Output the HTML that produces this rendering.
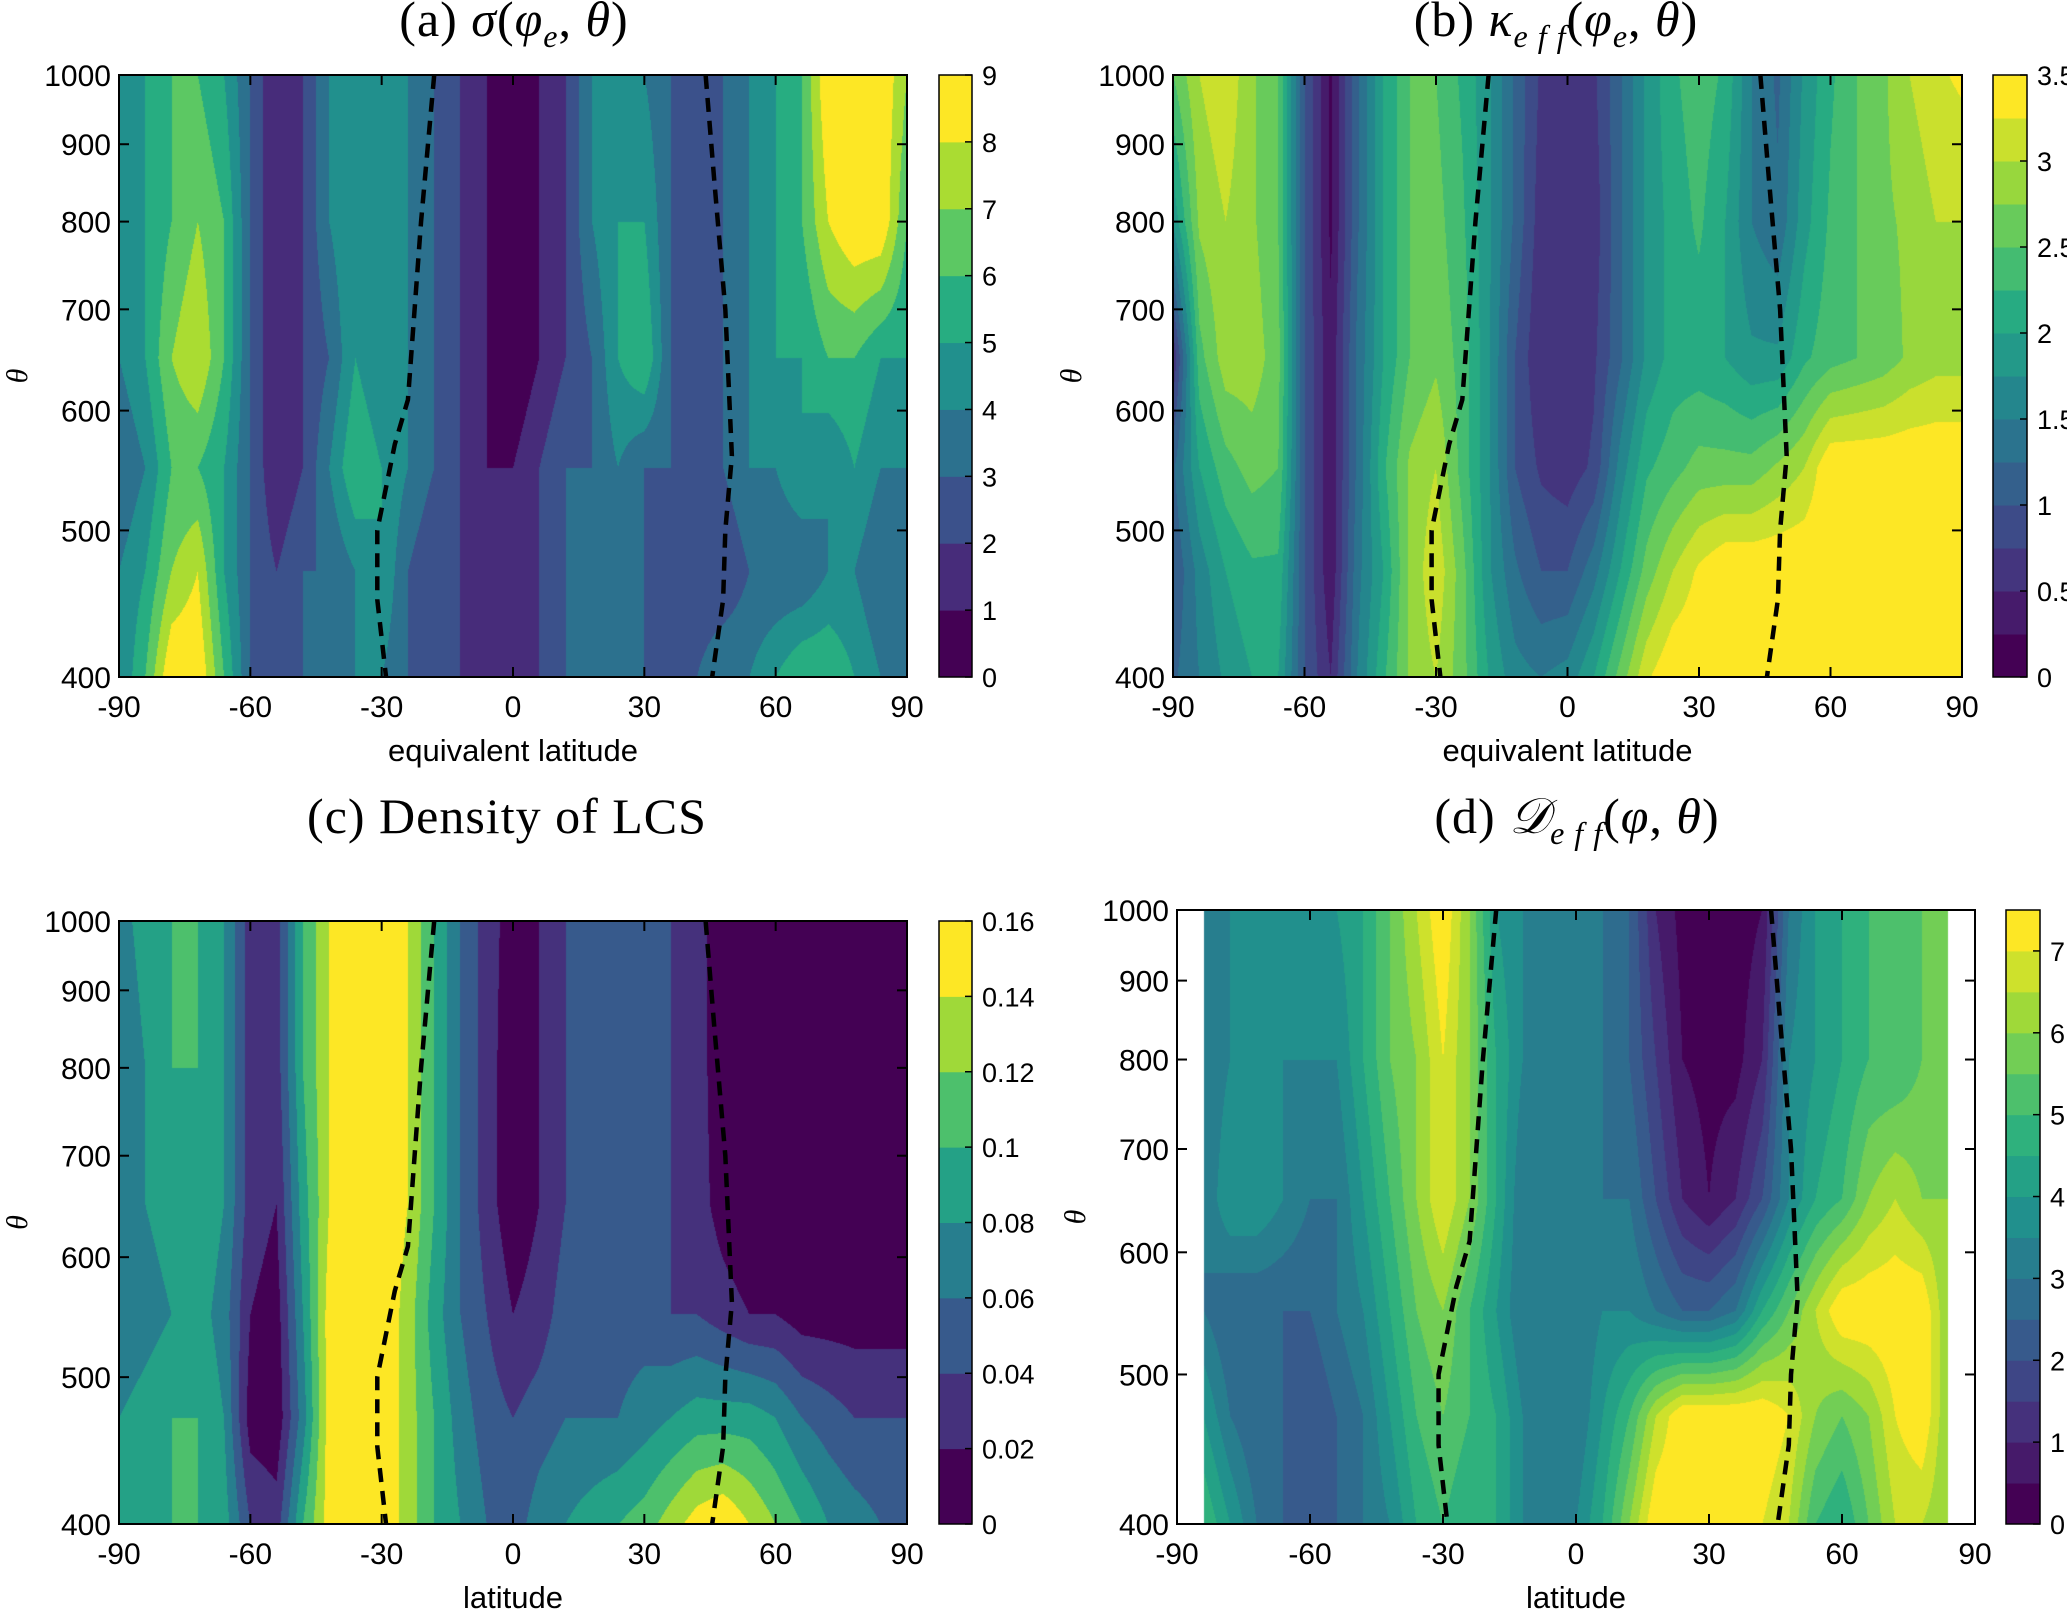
<!DOCTYPE html>
<html><head><meta charset="utf-8">
<style>
body{margin:0;background:#fff;width:2067px;height:1609px;position:relative;overflow:hidden;font-family:"Liberation Sans",sans-serif}
.t{position:absolute;font-family:"Liberation Serif",serif;font-size:50px;white-space:nowrap;transform:translateX(-50%);letter-spacing:1px}
canvas{position:absolute}
svg{position:absolute;left:0;top:0}
</style></head><body>
<div class="t" style="left:514px;top:-10px">(a) <i>σ</i>(<i>φ<sub style="font-size:32px">e</sub></i>, <i>θ</i>)</div>
<div class="t" style="left:1556px;top:-10px">(b) <i>κ<sub style="font-size:32px">e f f</sub></i>(<i>φ<sub style="font-size:32px">e</sub></i>, <i>θ</i>)</div>
<div class="t" style="left:507px;top:787px">(c) Density of LCS</div>
<div class="t" style="left:1577px;top:787px">(d) <i>𝒟<sub style="font-size:32px">e f f</sub></i>(<i>φ</i>, <i>θ</i>)</div>
<svg id="ov" width="2067" height="1609"></svg>
<script>
const lats=[-90,-84,-78,-72,-66,-60,-54,-48,-42,-36,-30,-24,-18,-12,-6,0,6,12,18,24,30,36,42,48,54,60,66,72,78,84,90];
const thetaRows=[1000,800,650,550,470,400];
const sigmaVals=[
[4,5,6,6,5,3,1,2,4,5,4,4,3,2,1,0,1,2,4,5,4,3,2,3,4,5,6,9,9,9,7],
[4,5,6,7,6,3,1,2,4,5,4,4,3,2,1,0,1,2,4,5,5,3,2,3,4,5,6,8,9,9,6],
[4,5,7,8,6,3,1,2,3,5,4,4,3,2,1,0,1,2,3,5,6,3,2,3,4,5,5,6,6,5,5],
[3,4,6,6,5,3,1,2,4,6,5,4,3,2,1,1,2,3,3,4,3,3,3,3,4,4,5,4,5,4,4],
[4,5,7,8,5,3,2,3,3,4,5,3,2,2,1,1,2,3,3,3,3,2,2,2,3,3,3,4,4,3,3],
[4,6,9,9,6,3,2,3,3,4,4,3,2,2,1,1,2,3,3,3,3,3,3,4,4,5,6,6,5,4,3]];
const kappaVals=[
[2.5,3,3.2,2.8,2.5,1,0.2,1.2,2,2.5,2.5,2.2,1.8,1.2,0.7,0.6,0.7,1.2,1.8,2.2,2.4,2.2,1.5,1.2,1.8,2.2,2.5,2.7,3,3.2,3.3],
[1.8,2.8,3,2.8,2.5,1,0.2,1.2,2,2.5,2.6,2.3,1.8,1.2,0.6,0.6,0.6,1.2,1.8,2.1,2.3,2,1.5,1.3,1.9,2.3,2.5,2.7,2.8,3,3],
[0.5,2.4,2.9,2.9,2.6,1,0.3,1.3,2,2.5,2.7,2.4,1.8,1,0.5,0.5,0.7,1.2,1.8,2.1,2.1,2,1.8,1.8,2.2,2.4,2.5,2.6,2.8,2.9,2.9],
[1.2,2,2.4,2.6,2.5,1,0.3,1.3,2.2,2.8,3,2.4,1.8,1,0.7,0.6,0.8,1.6,2.2,2.4,2.6,2.6,2.6,2.8,3,3.5,3.5,3.5,3.5,3.5,3.5],
[1,1.6,2,2.2,2.2,1,0.3,1.4,2,2.8,3.2,2.6,1.8,1.3,1,1,1.4,2,2.6,3,3.3,3.5,3.5,3.5,3.5,3.5,3.5,3.5,3.5,3.5,3.5],
[1.2,1.5,1.8,2,2,1,0.5,1.5,2.2,2.8,3,2.6,2,1.6,1.5,1.6,2,2.6,3.2,3.5,3.5,3.5,3.5,3.5,3.5,3.5,3.5,3.5,3.5,3.5,3.5]];
const lcsVals=[
[0.07,0.09,0.1,0.1,0.08,0.03,0.03,0.1,0.14,0.16,0.16,0.14,0.1,0.06,0.03,0.01,0.02,0.04,0.05,0.05,0.05,0.04,0.03,0.005,0,0,0,0,0,0,0],
[0.06,0.08,0.1,0.1,0.08,0.03,0.03,0.1,0.14,0.16,0.16,0.14,0.1,0.06,0.03,0.005,0.02,0.04,0.05,0.05,0.05,0.04,0.03,0.005,0,0,0,0,0,0,0],
[0.06,0.08,0.09,0.1,0.08,0.03,0.02,0.09,0.14,0.16,0.16,0.14,0.1,0.06,0.03,0.005,0.02,0.04,0.05,0.05,0.04,0.04,0.03,0.01,0,0,0,0,0,0,0],
[0.06,0.07,0.08,0.09,0.07,0.02,0.01,0.08,0.15,0.16,0.16,0.13,0.09,0.06,0.04,0.02,0.03,0.05,0.05,0.05,0.05,0.04,0.04,0.03,0.02,0.02,0.01,0.01,0.01,0.01,0.01],
[0.08,0.09,0.1,0.1,0.08,0.01,0.005,0.07,0.15,0.16,0.16,0.13,0.1,0.07,0.05,0.04,0.05,0.06,0.06,0.06,0.07,0.08,0.09,0.09,0.09,0.08,0.06,0.05,0.04,0.04,0.04],
[0.08,0.09,0.1,0.1,0.09,0.04,0.03,0.1,0.15,0.16,0.16,0.13,0.1,0.08,0.06,0.05,0.07,0.08,0.09,0.1,0.11,0.13,0.15,0.16,0.14,0.12,0.1,0.08,0.07,0.06,0.06]];
const deffVals=[
[null,3,3.5,4,4,3.5,4,4.5,5.5,6.5,7.5,6,4,3.5,3,3,3,2.5,1,0.3,0.2,0.2,0.5,3,4,4.5,5,5,5.5,6,null],
[null,3,3.5,3.5,3.5,3.5,3.5,4.5,5.5,6,7,6,4.5,3.5,3,3.5,3,2.5,1.5,0.5,0.3,0.3,1,3.5,4,4.5,5,5,5.5,6,null],
[null,3,4,4,3.5,3,3,4,5,6,7,6,4.5,3,3,3,3,3,2,1,0.5,1,2,3.5,4.5,5,6,6.5,6,6,null],
[null,3,2.5,2.5,2.5,2.5,3,3.5,4.5,5.5,6,5,4,3,3,3,3.5,3.5,3,2.5,2.5,3,4.5,5.5,6.5,7.5,7.5,7.5,7.5,6,null],
[null,4,3,2.5,2.5,2,2.5,3,4,5,5.5,5,4.5,3.5,3,3,4,5,6.5,7.5,7.5,7.5,7.5,7,6,5.5,6,7,7.5,6,null],
[null,5,4,3,2.5,2.5,2.5,3,3.5,4.5,5,4.5,4.5,3.5,3.5,3.5,4.5,6,7.5,7.5,7.5,7.5,7,6.5,5,4.5,5.5,6.5,6.5,6,null]];
const xTicks=[-90,-60,-30,0,30,60,90];
const yTicks=[400,500,600,700,800,900,1000];
const sigmaTicks=[0,1,2,3,4,5,6,7,8,9];
const kappaTicks=[0,0.5,1,1.5,2,2.5,3,3.5];
const lcsTicks=[0,0.02,0.04,0.06,0.08,0.1,0.12,0.14,0.16];
const deffTicks=[0,1,2,3,4,5,6,7];
const dashLeftLat=[-18,-21,-24,-27,-31,-31,-29];
const dashLeftTh=[1000,800,610,570,500,450,400];
const dashRightLat=[44,46,48.5,50,48.5,48,45.5];
const dashRightTh=[1000,850,700,560,500,450,400];

const V=[[0,[68,1,84]],[.125,[71,44,122]],[.25,[59,81,139]],[.375,[44,113,142]],[.5,[33,144,141]],[.625,[39,173,129]],[.75,[92,200,99]],[.875,[170,220,50]],[1,[253,231,37]]];
function vir(t){for(let i=1;i<V.length;i++){if(t<=V[i][0]){const a=V[i-1],b=V[i],f=(t-a[0])/(b[0]-a[0]);return a[1].map((c,k)=>Math.round(c+(b[1][k]-c)*f));}}return V[8][1];}
const NS='http://www.w3.org/2000/svg';const ov=document.getElementById('ov');
function el(t,a,txt){const e=document.createElementNS(NS,t);for(const k in a)e.setAttribute(k,a[k]);if(txt!==undefined)e.textContent=txt;ov.appendChild(e);return e;}
const L4=Math.log(400),L10=Math.log(1000);
function panel(id,P,vals,vmin,vmax,step,cticks,xlabel){
  const xs=l=>P.x+(l+90)/180*P.w, ys=t=>P.y+P.h*(1-(Math.log(t)-L4)/(L10-L4));
  const nb=Math.round((vmax-vmin)/step);
  const cv=document.createElement('canvas');cv.width=P.w;cv.height=P.h;cv.style.left=P.x+'px';cv.style.top=P.y+'px';
  
  
  document.body.insertBefore(cv,ov);
  const ctx=cv.getContext('2d');const img=ctx.createImageData(P.w,P.h);
  const lr=thetaRows.map(t=>Math.log(t));
  for(let py=0;py<P.h;py++){const lt=L4+(1-(py+.5)/P.h)*(L10-L4);
    let r=0;while(r<lr.length-2&&lt<lr[r+1])r++;let fr=(lr[r]-lt)/(lr[r]-lr[r+1]);fr=Math.max(0,Math.min(1,fr));
    for(let px=0;px<P.w;px++){const lat=-90+180*(px+.5)/P.w;let c=Math.min(lats.length-2,Math.floor((lat+90)/6));let fc=(lat-lats[c])/6;
      const a=vals[r][c],b=vals[r][c+1],d=vals[r+1][c],e=vals[r+1][c+1];const o=(py*P.w+px)*4;
      if(a===null||b===null||d===null||e===null){img.data[o]=img.data[o+1]=img.data[o+2]=img.data[o+3]=255;continue;}
      const v=(a*(1-fc)+b*fc)*(1-fr)+(d*(1-fc)+e*fc)*fr;
      let k=Math.floor((v-vmin)/step+1e-6);k=Math.max(0,Math.min(nb-1,k));const col=vir(k/(nb-1));
      img.data[o]=col[0];img.data[o+1]=col[1];img.data[o+2]=col[2];img.data[o+3]=255;}}
  ctx.putImageData(img,0,0);
  [[dashLeftLat,dashLeftTh],[dashRightLat,dashRightTh]].forEach((D,i)=>{const pts=D[0].map((l,j)=>xs(l)+','+ys(D[1][j])).join(' ');
    const p=el('polyline',{points:pts,fill:'none',stroke:'#000','stroke-width':4.5,'stroke-dasharray':'14,9'});
    });
  const fr=el('rect',{x:P.x,y:P.y,width:P.w,height:P.h,fill:'none',stroke:'#000','stroke-width':2});
  
  xTicks.forEach(t=>{const x=xs(t);el('line',{x1:x,y1:P.y+P.h,x2:x,y2:P.y+P.h-10,stroke:'#000','stroke-width':2});el('line',{x1:x,y1:P.y,x2:x,y2:P.y+10,stroke:'#000','stroke-width':2});
    const tx=el('text',{x:x,y:P.y+P.h+40,'text-anchor':'middle','font-size':30},t);});
  yTicks.forEach(t=>{const y=ys(t);el('line',{x1:P.x,y1:y,x2:P.x+10,y2:y,stroke:'#000','stroke-width':2});el('line',{x1:P.x+P.w,y1:y,x2:P.x+P.w-10,y2:y,stroke:'#000','stroke-width':2});
    const tx=el('text',{x:P.x-8,y:y+11,'text-anchor':'end','font-size':30},t);});
  const xl=el('text',{x:P.x+P.w/2,y:P.y+P.h+84,'text-anchor':'middle','font-size':31},xlabel);
  const yl=el('text',{x:0,y:0,'text-anchor':'middle','font-size':30,'font-style':'italic','font-family':'Liberation Serif, serif',transform:`translate(${P.x-92},${P.y+P.h/2}) rotate(-90)`},'θ');
  
  const cy=v=>P.y+P.h*(1-(v-vmin)/(vmax-vmin));
  for(let k=0;k<nb;k++){const c=vir(k/(nb-1));const r=el('rect',{x:P.cx,y:cy(vmin+(k+1)*step),width:P.cw,height:P.h/nb+0.5,fill:`rgb(${c})`});
    }
  el('rect',{x:P.cx,y:P.y,width:P.cw,height:P.h,fill:'none',stroke:'#000','stroke-width':1.5});
  cticks.forEach(t=>{const y=cy(t);el('line',{x1:P.cx+P.cw-7,y1:y,x2:P.cx+P.cw,y2:y,stroke:'#000','stroke-width':1.5});
    const tx=el('text',{x:P.cx+P.cw+10,y:y+10,'font-size':27},t);});
}
panel('panel-a',{x:119,y:75,w:788,h:602,cx:939,cw:33},sigmaVals,0,9,1,sigmaTicks,'equivalent latitude');
panel('panel-b',{x:1173,y:75,w:789,h:602,cx:1993,cw:34},kappaVals,0,3.5,0.25,kappaTicks,'equivalent latitude');
panel('panel-c',{x:119,y:921,w:788,h:603,cx:939,cw:33},lcsVals,0,0.16,0.02,lcsTicks,'latitude');
panel('panel-d',{x:1177,y:910,w:798,h:614,cx:2006,cw:34},deffVals,0,7.5,0.5,deffTicks,'latitude');
</script>
</body></html>
